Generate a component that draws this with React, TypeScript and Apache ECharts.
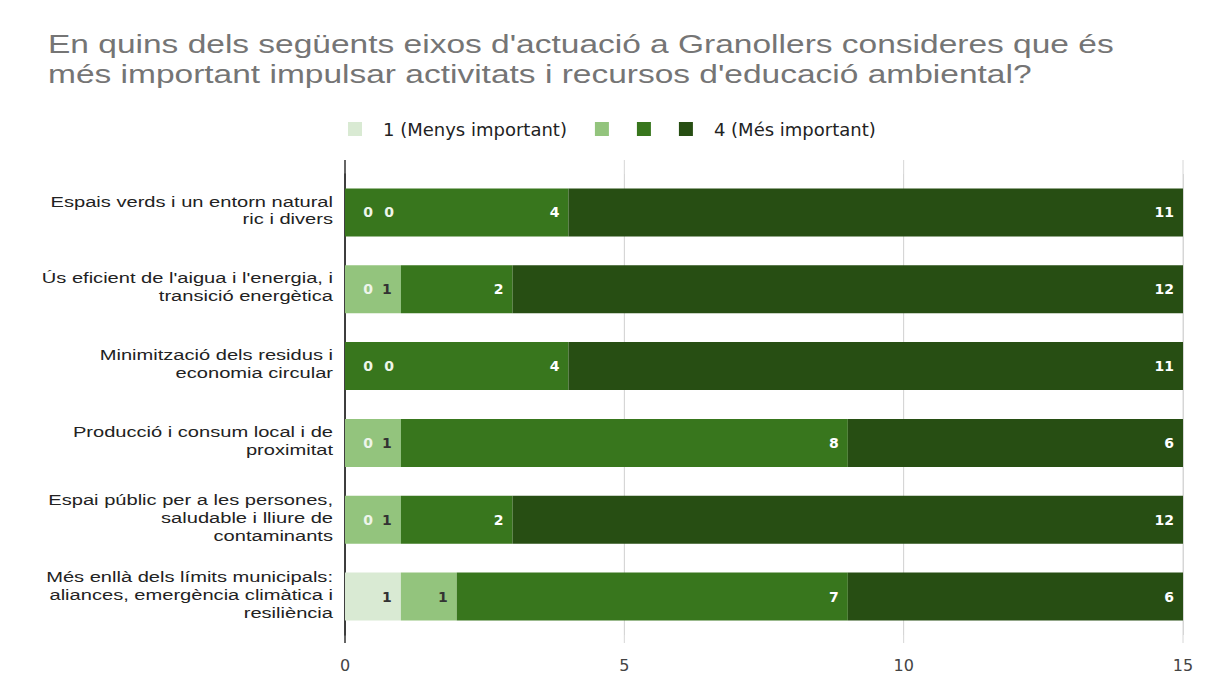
import React, { useEffect, useRef } from "react";
import * as echarts from "echarts";

const categories = [
  "Espais verds i un entorn natural\nric i divers",
  "Ús eficient de l'aigua i l'energia, i\ntransició energètica",
  "Minimització dels residus i\neconomia circular",
  "Producció i consum local i de\nproximitat",
  "Espai públic per a les persones,\nsaludable i lliure de\ncontaminants",
  "Més enllà dels límits municipals:\naliances, emergència climàtica i\nresiliència",
];

const seriesNames = ["1 (Menys important)", "2", "3", "4 (Més important)"];
const s1 = [0, 0, 0, 0, 0, 1];
const s2 = [0, 1, 0, 1, 1, 1];
const s3 = [4, 2, 4, 8, 2, 7];
const s4 = [11, 12, 11, 6, 12, 6];
const xTicks = [0, 5, 10, 15];

const titleText =
  "En quins dels següents eixos d'actuació a Granollers consideres que és\nmés important impulsar activitats i recursos d'educació ambiental?";

const colors = ["#d9ead3", "#93c47d", "#38761d", "#274e13"];
const labelColors = ["#333333", "#333333", "#ffffff", "#ffffff"];
const zeroOffsets = [37, 58, 0, 0];

const FONT = "Liberation Sans, Arial, sans-serif";
const STRETCH = 1.34;

export default function App() {
  const ref = useRef<HTMLDivElement>(null);
  useEffect(() => {
    document.body.style.margin = "0";
    if (!ref.current) return;
    const chart = echarts.init(ref.current, null, { renderer: "svg" });
    const all = [s1, s2, s3, s4];
    const series = all.map((vals, si) => ({
      name: seriesNames[si],
      type: "bar",
      stack: "total",
      barWidth: 48,
      itemStyle: { color: colors[si] },
      label: {
        show: true,
        position: "insideRight",
        distance: 9,
        color: labelColors[si],
        fontSize: 14,
        fontWeight: "bold",
        fontFamily: "DejaVu Sans, sans-serif",
      },
      data: vals.map((v) =>
        v === 0
          ? { value: v, label: { offset: [zeroOffsets[si], 0], color: "#eef5ea" } }
          : v
      ),
    }));

    chart.setOption({
      animation: false,
      backgroundColor: "#ffffff",
      textStyle: { fontFamily: FONT },
      legend: {
        left: 348,
        top: 120,
        padding: 0,
        itemWidth: 14,
        itemHeight: 14,
        itemGap: 28,
        icon: "rect",
        data: seriesNames,
        formatter: (name: string) =>
          name === "2" || name === "3" ? "" : "{g| }" + name,
        textStyle: {
          fontSize: 18,
          color: "#222222",
          fontFamily: "DejaVu Sans, sans-serif",
          rich: { g: { width: 16 } },
        },
      },
      grid: { left: 345, right: 25, top: 174, height: 461 },
      xAxis: {
        type: "value",
        min: xTicks[0],
        max: xTicks[xTicks.length - 1],
        interval: 5,
        axisLine: { show: false },
        axisTick: { show: false },
        splitLine: { show: true, lineStyle: { color: "#d6d6d6", width: 1 } },
        axisLabel: {
          fontSize: 16,
          color: "#444444",
          margin: 22,
          fontFamily: "DejaVu Sans, sans-serif",
        },
      },
      yAxis: {
        type: "category",
        inverse: true,
        data: categories,
        axisTick: { show: false },
        axisLine: { show: true, lineStyle: { color: "#333333", width: 1.5 } },
        axisLabel: { show: false },
      },
      series,
    });

    const graphics: any[] = [
      {
        type: "text",
        x: 48,
        y: 29,
        scaleX: STRETCH,
        style: {
          text: titleText,
          fill: "#757575",
          font: `25px ${FONT}`,
          lineHeight: 30,
          verticalAlign: "top",
          align: "left",
        },
      },
    ];
    // extend grid lines and axis line beyond the category band, as in the reference
    xTicks.forEach((t) => {
      const x = chart.convertToPixel({ xAxisIndex: 0 }, t) as number;
      graphics.push({
        type: "line",
        z: 0,
        shape: { x1: x, y1: 160, x2: x, y2: 643 },
        style: {
          stroke: t === 0 ? "#333333" : "#d6d6d6",
          lineWidth: t === 0 ? 1.5 : 1,
        },
      });
    });
    categories.forEach((c, i) => {
      const y = chart.convertToPixel({ yAxisIndex: 0 }, i) as number;
      graphics.push({
        type: "text",
        x: 333,
        y: y - 2,
        scaleX: STRETCH,
        style: {
          text: c,
          fill: "#222222",
          font: `15px ${FONT}`,
          lineHeight: 18,
          align: "right",
          verticalAlign: "middle",
        },
      });
    });
    chart.setOption({ graphic: graphics });

    return () => chart.dispose();
  }, []);
  return <div ref={ref} style={{ width: 1208, height: 675 }} />;
}
